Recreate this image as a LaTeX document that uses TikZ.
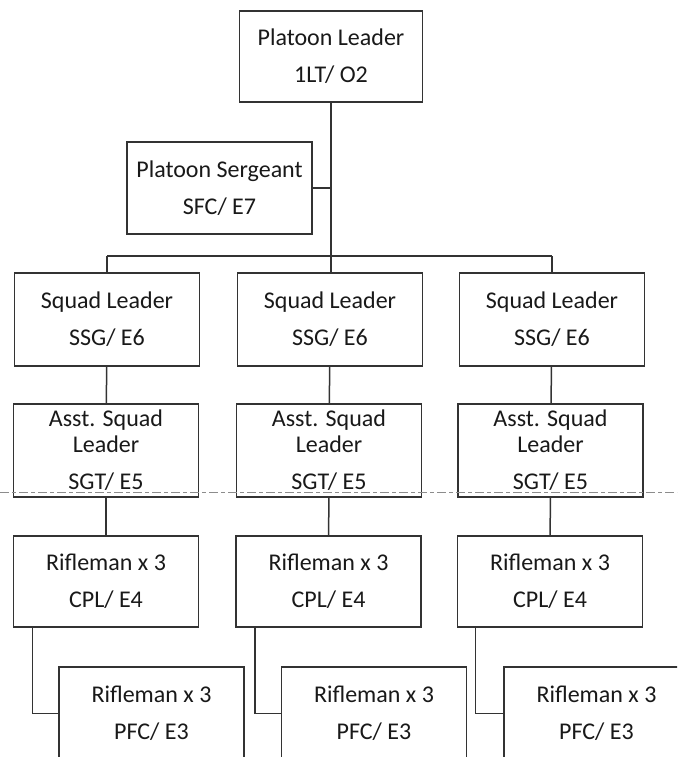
\documentclass[tikz,border=0pt]{standalone}
\usepackage{fontspec}
\setmainfont{Carlito}
\begin{document}
\begin{tikzpicture}[x=1pt,y=-1pt,
  box/.style={draw=black!80, line width=1.5pt, rectangle, outer sep=0pt, inner sep=0pt,
    minimum width=185pt, minimum height=92pt, align=center, text=black!90,
    font=\fontsize{24}{37}\selectfont},
  link/.style={draw=black!80, line width=1.5pt},
  scan/.style={draw=black!45, line width=0.8pt, dash pattern=on 9pt off 3pt on 4pt off 3pt}]
\clip (0,0) rectangle (677,757);
\fill[white] (0,0) rectangle (677,757);
% top
\node[box, minimum width=183pt, minimum height=91pt] (pl) at (331,56.5) {Platoon Leader\\1LT/ O2};
\node[box] (ps) at (219.5,188) {Platoon Sergeant\\SFC/ E7};
% squad leaders
\node[box, minimum height=93pt] (sl1) at (107,319.5) {Squad Leader\\SSG/ E6};
\node[box, minimum height=93pt] (sl2) at (330,319.5) {Squad Leader\\SSG/ E6};
\node[box, minimum height=93pt] (sl3) at (552,319.5) {Squad Leader\\SSG/ E6};
% assistant squad leaders
\node[box, minimum height=93pt, font=\fontsize{24}{26}\selectfont] (as1) at (106,450.5) {Asst. Squad\\Leader\\[11pt]SGT/ E5};
\node[box, minimum height=93pt, font=\fontsize{24}{26}\selectfont] (as2) at (329,450.5) {Asst. Squad\\Leader\\[11pt]SGT/ E5};
\node[box, minimum height=93pt, font=\fontsize{24}{26}\selectfont] (as3) at (550.5,450.5) {Asst. Squad\\Leader\\[11pt]SGT/ E5};
% riflemen CPL
\node[box, minimum height=91pt] (cp1) at (106,581.5) {Rifleman x 3\\CPL/ E4};
\node[box, minimum height=91pt] (cp2) at (328.5,581.5) {Rifleman x 3\\CPL/ E4};
\node[box, minimum height=91pt] (cp3) at (550,581.5) {Rifleman x 3\\CPL/ E4};
% riflemen PFC
\node[box, minimum height=93pt] (pf1) at (151.5,713.5) {Rifleman x 3\\PFC/ E3};
\node[box, minimum height=93pt] (pf2) at (374,713.5) {Rifleman x 3\\PFC/ E3};
\node[box, minimum height=93pt] (pf3) at (596.5,713.5) {Rifleman x 3\\PFC/ E3};
% bar coordinates
\coordinate (barL) at (107,256);
\coordinate (barM) at (331,256);
\coordinate (barR) at (552,256);
% connectors
\draw[link] (pl.south) -- (barM);
\draw[link] (barL) -- (barR);
\draw[link] (ps.east) -- (ps.east -| pl.south);
\draw[link] (barL) -- (sl1.north);
\draw[link] (barM) -- (barM |- sl2.north);
\draw[link] (barR) -- (sl3.north);
\draw[link] (sl1) -- (as1);
\draw[link] (sl2) -- (as2);
\draw[link] (sl3) -- (as3);
\draw[link] (as1) -- (cp1);
\draw[link] (as2) -- (cp2);
\draw[link] (as3) -- (cp3);
\draw[link] ([xshift=19pt]cp1.south west) |- (pf1.west);
\draw[link] ([xshift=19pt]cp2.south west) |- (pf2.west);
\draw[link] ([xshift=18pt]cp3.south west) |- (pf3.west);
% scan line artefact
\coordinate (scanL) at (0,492);
\coordinate (scanR) at (677,492);
\draw[scan] (scanL) -- (scanR);
\end{tikzpicture}
\end{document}
